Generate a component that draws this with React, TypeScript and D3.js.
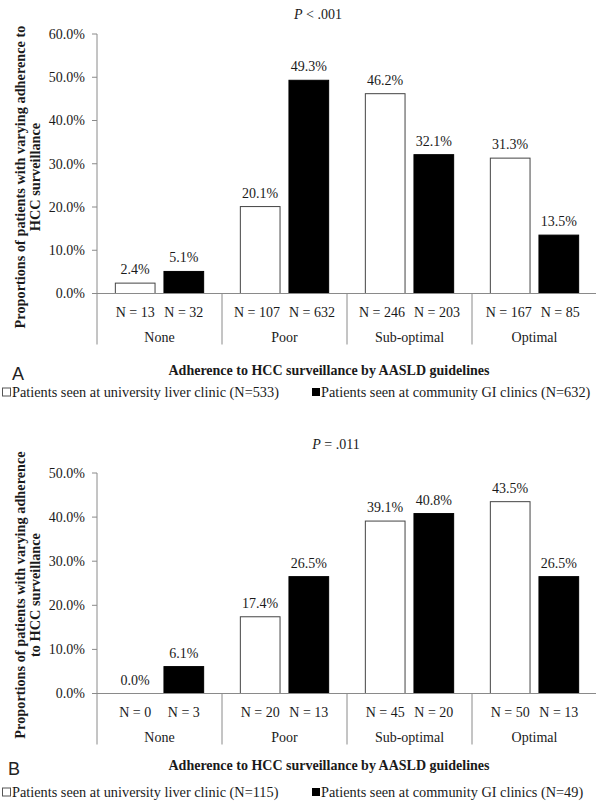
import React from "react";
import * as d3 from "d3";

// Adherence categories shared by both panels
const categories = ["None", "Poor", "Sub-optimal", "Optimal"];
const seriesKeys = ["university", "community"];

// Panel A: all patients
const panelAUniversity = [2.4, 20.1, 46.2, 31.3];
const panelACommunity = [5.1, 49.3, 32.1, 13.5];
const panelAUniversityN = [13, 107, 246, 167];
const panelACommunityN = [32, 632, 203, 85];
const panelATicks = [0, 10, 20, 30, 40, 50, 60];
const panelAPValue = "< .001";
const panelALegend = [
  "Patients seen at university liver clinic (N=533)",
  "Patients seen at community GI clinics (N=632)",
];
const panelAYTitle = ["Proportions of patients with varying adherence to", "HCC surveillance"];

// Panel B
const panelBUniversity = [0.0, 17.4, 39.1, 43.5];
const panelBCommunity = [6.1, 26.5, 40.8, 26.5];
const panelBUniversityN = [0, 20, 45, 50];
const panelBCommunityN = [3, 13, 20, 13];
const panelBTicks = [0, 10, 20, 30, 40, 50];
const panelBPValue = "= .011";
const panelBLegend = [
  "Patients seen at university liver clinic (N=115)",
  "Patients seen at community GI clinics (N=49)",
];
const panelBYTitle = ["Proportions of patients with varying adherence", "to HCC surveillance"];

const xTitle = "Adherence to HCC surveillance by AASLD guidelines";

const SERIF = "Liberation Serif";
const SANS = "Liberation Sans";
const AXIS = "#8a8a8a";
const FS = 14;
const LEGEND_FS = 14.3;

// Measure label width so paired N labels can be nudged apart when they crowd
let ctx: CanvasRenderingContext2D | null = null;
function textWidth(s: string, size: number): number {
  if (typeof document === "undefined") return s.length * size * 0.5;
  if (!ctx) ctx = document.createElement("canvas").getContext("2d");
  if (!ctx) return s.length * size * 0.5;
  ctx.font = `${size}px "${SERIF}"`;
  return ctx.measureText(s).width;
}

type PanelProps = {
  letter: string;
  pValue: string;
  university: number[];
  community: number[];
  universityN: number[];
  communityN: number[];
  ticks: number[];
  legend: string[];
  yTitle: string[];
  top: number;
  zero: number;
  titleX: number;
  titleY: number;
  yTitleCenter: number;
  xTitleY: number;
  letterX: number;
  legendY: number;
};

function Panel(p: PanelProps) {
  const left = 97;
  const right = 597;
  const maxTick = p.ticks[p.ticks.length - 1];
  const y = d3.scaleLinear().domain([0, maxTick]).range([p.zero, p.top]);
  const x = d3.scaleBand().domain(categories).range([left, right]).padding(0);
  const inner = d3
    .scaleBand()
    .domain(seriesKeys)
    .range([0, x.bandwidth()])
    .paddingInner(0.163)
    .paddingOuter(0.367);
  const fmt = d3.format(".1f");
  const nY = p.zero + 19;
  const catY = p.zero + 44;
  const sepBottom = p.zero + 51;

  const rows = categories.map((c, i) => {
    const vals = [
      { key: "university", v: p.university[i], n: p.universityN[i] },
      { key: "community", v: p.community[i], n: p.communityN[i] },
    ].map((d) => ({
      ...d,
      cx: inner(d.key)! + inner.bandwidth() / 2,
      label: "N = " + d.n,
    }));
    // spread the two N labels so at least a small gap separates them
    const w0 = textWidth(vals[0].label, FS);
    const w1 = textWidth(vals[1].label, FS);
    const gap = vals[1].cx - w1 / 2 - (vals[0].cx + w0 / 2);
    const minGap = 9;
    const shift = gap < minGap ? (minGap - gap) / 2 : 0;
    const lx = [vals[0].cx - shift, vals[1].cx + shift];
    return { cat: c, vals: vals.map((d, j) => ({ ...d, lx: lx[j] })) };
  });

  const txt = { fontFamily: SERIF, fill: "#1a1a1a" };

  return (
    <g>
      {/* p-value title */}
      <text x={p.titleX} y={p.titleY} textAnchor="middle" fontSize={FS} {...txt}>
        <tspan fontStyle="italic">P</tspan>
        {" " + p.pValue}
      </text>

      {/* y axis */}
      <line x1={left} x2={left} y1={p.top} y2={sepBottom} stroke={AXIS} strokeWidth={1} />
      {p.ticks.map((t) => (
        <g key={t}>
          <line x1={left - 5} x2={left} y1={y(t)} y2={y(t)} stroke={AXIS} />
          <text x={left - 12} y={y(t)} dy="0.35em" textAnchor="end" fontSize={FS} {...txt}>
            {fmt(t) + "%"}
          </text>
        </g>
      ))}

      {/* y title */}
      <g transform={`translate(20,${p.yTitleCenter}) rotate(-90)`}>
        {p.yTitle.map((l, i) => (
          <text
            key={i}
            x={0}
            y={i * 15}
            dy="0.35em"
            textAnchor="middle"
            fontWeight="bold"
            fontSize={14.3}
            {...txt}
          >
            {l}
          </text>
        ))}
      </g>

      {/* bars */}
      {rows.map((r) => (
        <g key={r.cat} transform={`translate(${x(r.cat)},0)`}>
          {r.vals.map((d) => {
            const bx = inner(d.key)!;
            const bw = inner.bandwidth();
            return (
              <g key={d.key}>
                {d.v > 0 && (
                  <rect
                    x={bx + 0.5}
                    y={y(d.v)}
                    width={bw - 1}
                    height={p.zero - y(d.v)}
                    fill={d.key === "community" ? "#000" : "#fff"}
                    stroke={d.key === "community" ? "#000" : "#444"}
                    strokeWidth={1}
                  />
                )}
                <text x={d.cx} y={y(d.v) - 9} textAnchor="middle" fontSize={FS} {...txt}>
                  {fmt(d.v) + "%"}
                </text>
                <text x={d.lx} y={nY} dy="0.35em" textAnchor="middle" fontSize={FS} {...txt}>
                  {d.label}
                </text>
              </g>
            );
          })}
          <text
            x={x.bandwidth() / 2}
            y={catY}
            dy="0.35em"
            textAnchor="middle"
            fontSize={FS}
            {...txt}
          >
            {r.cat}
          </text>
        </g>
      ))}

      {/* x axis baseline and category separators */}
      <line x1={left} x2={right} y1={p.zero} y2={p.zero} stroke={AXIS} strokeWidth={1} />
      {categories.map((c) => (
        <line
          key={c}
          x1={x(c)! + x.bandwidth()}
          x2={x(c)! + x.bandwidth()}
          y1={p.zero}
          y2={sepBottom}
          stroke={AXIS}
        />
      ))}

      {/* panel letter and x title */}
      <text x={p.letterX} y={p.xTitleY + 4} dy="0.35em" fontFamily={SANS} fontSize={18} fill="#222">
        {p.letter}
      </text>
      <text
        x={329}
        y={p.xTitleY}
        dy="0.35em"
        textAnchor="middle"
        fontWeight="bold"
        fontSize={FS}
        {...txt}
      >
        {xTitle}
      </text>

      {/* legend */}
      <rect x={2.5} y={p.legendY - 4} width={8} height={8} fill="#fff" stroke="#555" />
      <text x={12} y={p.legendY} dy="0.35em" fontSize={LEGEND_FS} {...txt}>
        {p.legend[0]}
      </text>
      <rect x={312} y={p.legendY - 4} width={8} height={8} fill="#000" />
      <text x={321} y={p.legendY} dy="0.35em" fontSize={LEGEND_FS} {...txt}>
        {p.legend[1]}
      </text>
    </g>
  );
}

export default function App() {
  return (
    <svg
      width={596}
      height={801}
      viewBox="0 0 596 801"
      style={{ position: "absolute", left: 0, top: 0, background: "#fff" }}
    >
      <rect width={596} height={801} fill="#fff" />
      <Panel
        letter="A"
        pValue={panelAPValue}
        university={panelAUniversity}
        community={panelACommunity}
        universityN={panelAUniversityN}
        communityN={panelACommunityN}
        ticks={panelATicks}
        legend={panelALegend}
        yTitle={panelAYTitle}
        top={34}
        zero={293.5}
        titleX={318}
        titleY={19}
        yTitleCenter={177}
        xTitleY={370}
        letterX={12}
        legendY={392}
      />
      <Panel
        letter="B"
        pValue={panelBPValue}
        university={panelBUniversity}
        community={panelBCommunity}
        universityN={panelBUniversityN}
        communityN={panelBCommunityN}
        ticks={panelBTicks}
        legend={panelBLegend}
        yTitle={panelBYTitle}
        top={473}
        zero={693.5}
        titleX={336}
        titleY={449}
        yTitleCenter={595}
        xTitleY={765}
        letterX={8}
        legendY={792}
      />
    </svg>
  );
}
